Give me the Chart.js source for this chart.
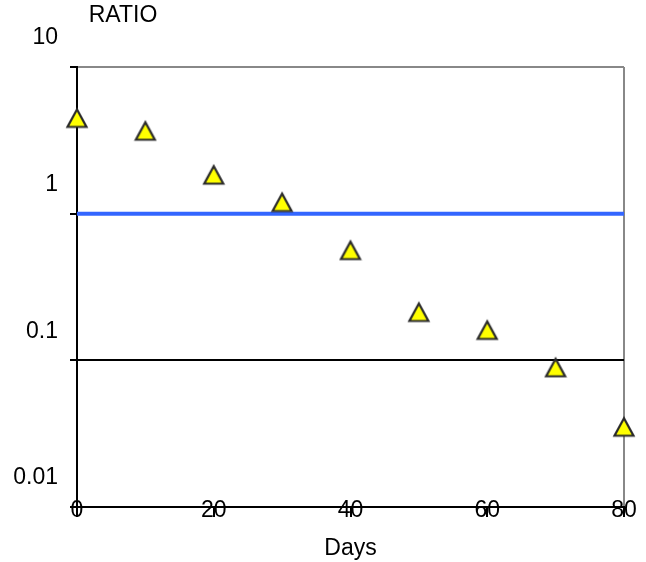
<!DOCTYPE html>
<html>
<head>
<meta charset="utf-8">
<script src="https://cdn.jsdelivr.net/npm/chart.js@4/dist/chart.umd.min.js"></script>
<style>
	html, body { margin: 0; padding: 0; background: #fff; }
	#myChart { display: block; }
</style>
</head>
<body>
<canvas id="myChart" width="646" height="562"></canvas>
<script>
// data
var days = [0, 10, 20, 30, 40, 50, 60, 70, 80];
var ratio = [4.46, 3.65, 1.83, 1.19, 0.56, 0.212, 0.16, 0.089, 0.035];
var limitDays = [0, 80];
var limitRatio = [1, 1];
var yTicks = [0.01, 0.1, 1, 10];
var xTicks = [0, 20, 40, 60, 80];

var fontFamily = 'Arial, "Liberation Sans", sans-serif';
var fontSize = 23;

// yellow triangle marker, centred on its box like the excel one
function triangleMarker(){
	var c = document.createElement('canvas');
	c.width = 24;
	c.height = 24;
	var g = c.getContext('2d');
	g.beginPath();
	g.moveTo(12, 3);
	g.lineTo(21.5, 20.5);
	g.lineTo(2.5, 20.5);
	g.closePath();
	g.fillStyle = '#ffff00';
	g.fill();
	g.lineWidth = 2.2;
	g.strokeStyle = '#2a2a2a';
	g.stroke();
	return c;
}

// "RATIO" sits above the value axis
var ratioLabel = {
	id: 'ratioLabel',
	afterDraw: function(chart){
		var c = chart.ctx, area = chart.chartArea;
		c.save();
		c.font = fontSize + 'px ' + fontFamily;
		c.fillStyle = '#000';
		c.textAlign = 'center';
		c.textBaseline = 'middle';
		c.fillText('RATIO', area.left + 46, area.top - 51);
		c.restore();
	}
};

var points = [];
days.map(function(d, i){
	points.push({ x: d, y: ratio[i] });
});

var limit = [];
limitDays.map(function(d, i){
	limit.push({ x: d, y: limitRatio[i] });
});

var ctx = document.getElementById('myChart');
var myChart = new Chart(ctx, {
	type: 'scatter',
	data: {
		datasets: [{
			label: 'Ratio',
			data: points,
			pointStyle: triangleMarker(),
			pointRadius: 10,
			showLine: false,
			clip: false
		}, {
			label: 'Limit',
			type: 'line',
			data: limit,
			borderColor: '#3366ff',
			borderWidth: 4,
			pointRadius: 0,
			fill: false,
			clip: false
		}]
	},
	options: {
		responsive: false,
		animation: false,
		events: [],
		layout: {
			padding: { top: 67, right: 22, left: 0, bottom: 0 }
		},
		plugins: {
			legend: { display: false },
			tooltip: { enabled: false },
			title: { display: false }
		},
		scales: {
			x: {
				type: 'linear',
				min: 0,
				max: 80,
				afterBuildTicks: function(s){
					s.ticks = xTicks.map(function(v){ return { value: v }; });
				},
				afterFit: function(s){ s.height = 55; },
				border: { color: '#000', width: 2 },
				grid: {
					color: function(c){
						return (c.tick && c.tick.value === 80) ? '#888888' : 'rgba(0,0,0,0)';
					},
					lineWidth: 2,
					tickLength: 10,
					tickColor: '#000',
					tickWidth: 2
				},
				ticks: {
					color: '#000',
					font: { family: fontFamily, size: fontSize },
					// labels sit on the axis line, so mirror them (no clipping)
					mirror: true,
					padding: -17,
					maxRotation: 0,
					autoSkip: false
				},
				title: {
					display: true,
					text: 'Days',
					color: '#000',
					font: { family: fontFamily, size: fontSize },
					padding: { top: 0, bottom: 0 }
				}
			},
			y: {
				type: 'logarithmic',
				min: 0.01,
				max: 10,
				afterBuildTicks: function(s){
					s.ticks = yTicks.map(function(v){ return { value: v }; });
				},
				afterFit: function(s){ s.width = 77; },
				border: { color: '#000', width: 2 },
				grid: {
					color: function(c){
						return (c.tick && c.tick.value === 10) ? '#888888' : '#000';
					},
					lineWidth: 2,
					tickLength: 7,
					tickColor: '#000'
				},
				ticks: {
					color: '#000',
					font: { family: fontFamily, size: fontSize },
					padding: 12,
					labelOffset: -29,
					callback: function(v){ return String(v); }
				}
			}
		}
	},
	plugins: [ratioLabel]
});
</script>
</body>
</html>
